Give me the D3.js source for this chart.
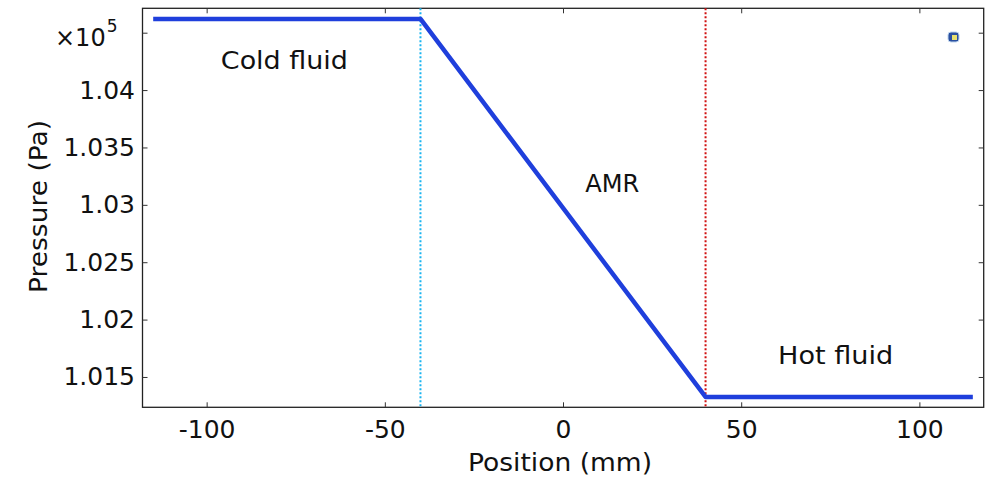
<!DOCTYPE html>
<html><head><meta charset="utf-8">
<script src="https://cdn.jsdelivr.net/npm/d3@7"></script>
<style>body{margin:0;background:#fff;} text{font-family:"DejaVu Sans",sans-serif;}</style>
</head><body>
<svg id="c" width="992" height="479"></svg>
<script>
const positions = [-115, -40, 40, 115];
const pressures = [104620, 104620, 101326, 101326];
const xTicks = [-100, -50, 0, 50, 100];
const xTickLabels = ["-100", "-50", "0", "50", "100"];
const yTicks = [1.015, 1.02, 1.025, 1.03, 1.035, 1.04, 1.045];
const yTickLabels = ["1.015", "1.02", "1.025", "1.03", "1.035", "1.04", ""];
const boundaries = [-40, 40];
const regionLabels = ["Cold fluid", "AMR", "Hot fluid"];
const regionLabelPos = [[-78.2, 1.041832], [13.8, 1.03113], [76.5, 1.016169]];
const regionLabelWidths = [127, 54, 115];

const svg = d3.select("#c");
const L = 142.5, R = 983.7, T = 8.3, B = 407.3;
const x = d3.scaleLinear().domain([-118, 118.05]).range([L, R]);
const y = d3.scaleLinear().domain([1.012357, 1.047126]).range([B, T]);

svg.append("rect").attr("x", L).attr("y", T).attr("width", R - L).attr("height", B - T)
  .attr("fill", "none").attr("stroke", "#222").attr("stroke-width", 1.3);

const fs = "25px";
const bx = svg.append("g").attr("transform", `translate(0,${B})`)
  .call(d3.axisBottom(x).tickValues(xTicks).tickSize(-5).tickFormat((d, i) => xTickLabels[i]));
bx.selectAll("text").attr("y", 30.7).attr("dy", 0);
const tx = svg.append("g").attr("transform", `translate(0,${T})`)
  .call(d3.axisTop(x).tickValues(xTicks).tickSize(-5).tickFormat(""));
const ly = svg.append("g").attr("transform", `translate(${L},0)`)
  .call(d3.axisLeft(y).tickValues(yTicks).tickSize(-5).tickPadding(7.5).tickFormat((d, i) => yTickLabels[i]));
const ry = svg.append("g").attr("transform", `translate(${R},0)`)
  .call(d3.axisRight(y).tickValues(yTicks).tickSize(-5).tickFormat(""));
[bx, tx, ly, ry].forEach(g => {
  g.select(".domain").remove();
  g.selectAll(".tick line").attr("stroke", "#333");
  g.selectAll("text").attr("font-size", fs).attr("fill", "#111").attr("font-family", "DejaVu Sans");
});

const ex = svg.append("text").attr("x", 55).attr("y", 46).attr("font-size", "24px").attr("fill", "#111");
ex.append("tspan").text("×10");
ex.append("tspan").attr("dx", 1).attr("dy", -14).attr("font-size", "17px").text("5");

const bColors = ["#1ab4f0", "#d01010"];
boundaries.forEach((b, i) => {
  svg.append("line").attr("x1", x(b)).attr("x2", x(b)).attr("y1", T).attr("y2", B)
    .attr("stroke", bColors[i]).attr("stroke-width", 2).attr("stroke-dasharray", "2,2");
});

const line = d3.line().x((d, i) => x(positions[i])).y(d => y(d / 1e5));
svg.append("path").datum(pressures).attr("d", line).attr("fill", "none")
  .attr("stroke", "#1f3fdc").attr("stroke-width", 4.5).attr("stroke-linejoin", "round");

regionLabels.forEach((t, i) => {
  svg.append("text").attr("x", x(regionLabelPos[i][0])).attr("y", y(regionLabelPos[i][1]))
    .attr("text-anchor", "middle").attr("font-size", "24px").attr("fill", "#111")
    .attr("textLength", regionLabelWidths[i]).attr("lengthAdjust", "spacingAndGlyphs").text(t);
});

svg.append("rect").attr("x", 948).attr("y", 32).attr("width", 11).attr("height", 10).attr("rx", 3)
  .attr("fill", "#2a4fa0").attr("stroke", "#bcd4ee").attr("stroke-width", 1);
svg.append("rect").attr("x", 952).attr("y", 35).attr("width", 5).attr("height", 5).attr("fill", "#e8e070");

svg.append("text").attr("transform", `translate(47,206.5) rotate(-90)`)
  .attr("text-anchor", "middle").attr("font-size", "24px").attr("fill", "#111")
  .attr("textLength", 173).attr("lengthAdjust", "spacingAndGlyphs").text("Pressure (Pa)");
svg.append("text").attr("x", 560).attr("y", 471)
  .attr("text-anchor", "middle").attr("font-size", "24px").attr("fill", "#111")
  .attr("textLength", 184).attr("lengthAdjust", "spacingAndGlyphs").text("Position (mm)");
</script>
</body></html>
